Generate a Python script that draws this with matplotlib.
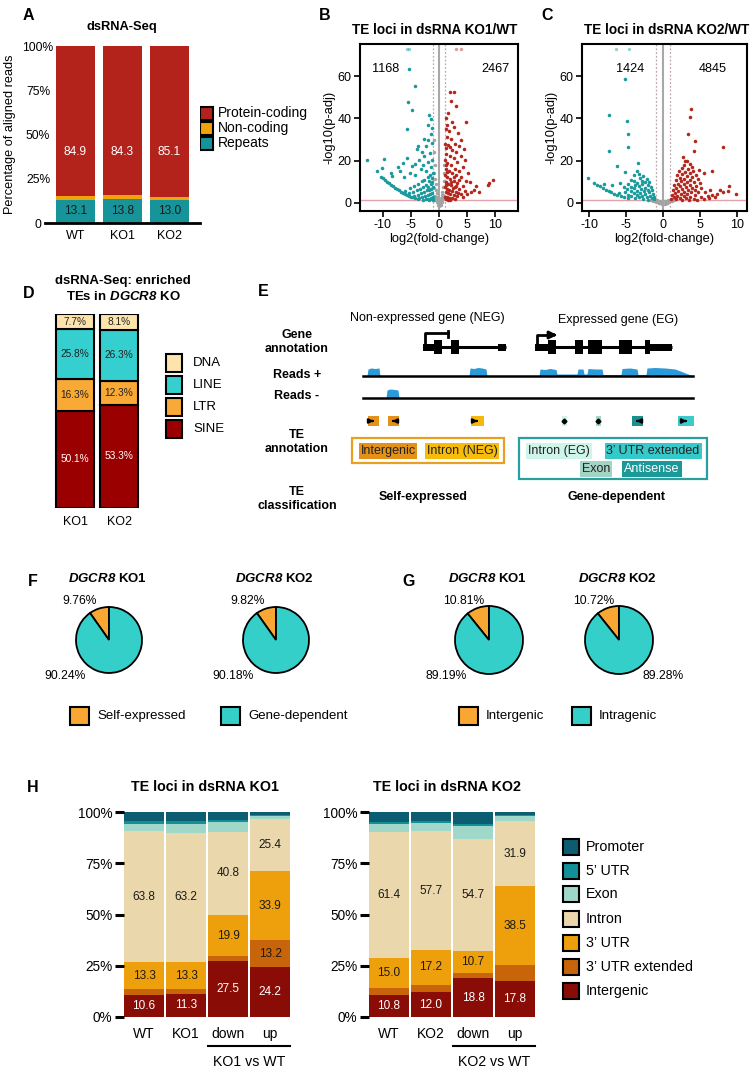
import numpy as np
import matplotlib
matplotlib.use("Agg")
import matplotlib.pyplot as plt
from matplotlib.patches import Rectangle

plt.rcParams["font.family"] = ["Liberation Sans", "DejaVu Sans"]
plt.rcParams["axes.unicode_minus"] = False
# math text is only used for the italic gene name, so make it bold italic throughout
plt.rcParams["mathtext.fontset"] = "custom"
plt.rcParams["mathtext.it"] = "Liberation Sans:italic:bold"
plt.rcParams["mathtext.rm"] = "Liberation Sans:italic:bold"

# ---------------- data ----------------
# A: dsRNA-Seq read composition (%)
a_samples = ["WT", "KO1", "KO2"]
a_repeats = [13.1, 13.8, 13.0]
a_noncoding = [2.0, 1.9, 1.9]
a_protein = [84.9, 84.3, 85.1]

# B: volcano KO1/WT, (log2FC, -log10 padj)
b_down = [(-5.4, 63.3), (-4.2, 55.2), (-5.5, 47.9), (-4.8, 44.0), (-5.7, 34.8),
          (-12.8, 20.2), (-9.9, 21.0), (-11.1, 14.9), (-10.2, 16.5), (-8.6, 14.2), (-7.4, 16.8),
          (-10.3, 12.4), (-10.0, 11.6), (-9.6, 10.8), (-9.3, 10.1), (-8.9, 9.3), (-8.6, 8.6),
          (-8.2, 7.9), (-7.9, 7.2), (-7.5, 6.5), (-7.2, 5.9), (-6.8, 5.3), (-6.5, 4.8),
          (-6.1, 4.3), (-5.8, 3.9), (-5.4, 3.4), (-5.0, 3.0), (-4.6, 2.6), (-4.2, 2.3), (-3.8, 2.0),
          (-1.7, 41.6), (-1.4, 39.9), (-2.0, 36.7), (-1.2, 35.3), (-1.5, 32.8), (-2.6, 30.2),
          (-1.9, 29.6), (-1.2, 28.4), (-2.3, 26.9), (-3.7, 27.0), (-4.0, 25.4), (-3.0, 24.1),
          (-1.6, 23.5), (-2.6, 22.0), (-3.5, 20.3), (-5.8, 21.4), (-6.5, 19.0), (-1.3, 20.5),
          (-2.0, 19.2), (-2.9, 18.1), (-4.3, 18.4), (-4.9, 17.4), (-1.5, 17.0), (-3.3, 16.0),
          (-2.3, 15.2), (-7.0, 15.1), (-5.1, 14.1), (-4.2, 13.2), (-6.2, 12.5), (-8.3, 12.9),
          (-1.1, 14.0), (-1.6, 13.1), (-2.0, 12.2), (-1.3, 12.0), (-2.6, 11.1), (-3.1, 10.2),
          (-1.2, 10.1), (-1.8, 10.4), (-3.7, 9.1), (-1.5, 9.0), (-2.4, 8.6), (-4.4, 8.0),
          (-1.1, 7.6), (-2.0, 7.7), (-2.9, 7.5), (-5.1, 7.0), (-3.4, 6.8), (-1.4, 6.5),
          (-4.0, 6.0), (-1.8, 6.2), (-2.2, 5.9), (-6.0, 5.8), (-2.7, 5.4), (-4.6, 5.1),
          (-1.2, 4.9), (-3.2, 4.8), (-5.3, 4.5), (-1.6, 4.2), (-3.8, 3.9), (-2.0, 3.6),
          (-2.5, 3.2), (-4.4, 3.3), (-1.1, 3.0), (-3.0, 2.8), (-1.5, 2.5), (-3.5, 2.4),
          (-1.9, 2.1), (-2.4, 1.9), (-1.3, 1.7), (-2.8, 1.6), (-1.7, 1.5), (-1.1, 1.4)]
b_up = [(1.9, 52.5), (2.6, 52.7), (2.1, 48.2), (3.0, 45.9), (1.6, 42.7), (4.9, 38.2),
        (3.4, 33.1), (4.0, 30.0), (4.4, 25.3), (4.7, 20.5), (9.6, 11.0), (8.9, 9.4),
        (8.7, 8.7), (7.1, 5.4), (5.8, 5.4), (6.6, 7.9), (5.5, 9.8),
        (1.3, 40.1), (1.5, 37.0), (2.3, 38.2), (1.2, 35.0), (1.8, 34.1), (2.7, 36.0),
        (1.4, 31.2), (2.1, 30.3), (2.9, 28.1), (3.6, 27.0), (1.1, 28.0), (1.6, 27.2),
        (2.4, 25.1), (3.1, 24.0), (3.9, 22.2), (1.3, 23.1), (1.9, 22.0), (2.6, 21.1),
        (3.3, 19.2), (4.2, 17.1), (1.1, 20.2), (1.5, 19.1), (2.2, 18.0), (2.9, 16.2),
        (3.6, 15.1), (5.2, 14.0), (1.2, 16.3), (1.7, 15.2), (2.4, 14.1), (3.1, 13.0),
        (4.0, 12.1), (4.8, 10.3), (1.1, 13.1), (1.4, 12.2), (1.9, 11.5), (2.6, 10.5),
        (3.3, 9.5), (4.3, 8.1), (1.2, 10.1), (1.6, 9.2), (2.1, 8.5), (2.8, 7.5),
        (3.6, 6.5), (4.6, 5.5), (6.2, 6.1), (1.1, 7.5), (1.4, 6.8), (1.8, 6.2),
        (2.3, 5.7), (3.0, 5.0), (3.9, 4.2), (5.0, 4.2), (1.2, 5.0), (1.6, 4.5),
        (2.0, 4.1), (2.6, 3.6), (3.3, 3.1), (4.2, 2.8), (1.1, 3.0), (1.4, 2.7),
        (1.8, 2.4), (2.3, 2.2), (2.9, 2.0), (1.2, 1.8), (1.6, 1.6), (2.0, 1.5),
        (1.3, 26.0), (2.0, 26.5), (1.2, 18.1), (2.7, 12.5), (3.5, 11.0), (1.5, 14.5),
        (2.2, 9.8), (3.0, 8.0), (1.3, 8.5), (2.5, 6.9), (3.4, 4.6)]
b_ns = [(-0.9, 30.0), (-0.95, 24.0), (-0.8, 18.0), (-0.9, 14.0), (-0.7, 11.5), (-0.6, 9.0),
        (-0.85, 7.0), (-0.5, 6.0), (-0.4, 4.5), (-0.7, 3.5), (-0.3, 2.8), (-0.2, 1.8),
        (-0.55, 1.5), (-0.1, 0.8), (0.0, 0.3), (0.1, -0.4), (-0.2, -0.9), (0.3, -1.0),
        (0.0, -1.6), (0.2, 0.9), (0.35, 2.2), (0.5, 3.6), (0.6, 5.0), (0.75, 7.5),
        (0.85, 10.5), (0.9, 14.0), (0.95, 18.0), (0.8, 4.0), (0.65, 2.0), (-0.8, 2.2),
        (0.9, 2.6), (-0.95, 1.2), (0.45, 0.5), (-0.4, 0.3)]
b_cap_down = [-5.7, -5.4]
b_cap_up = [3.0, 4.0]
b_counts = ["1168", "2467"]

# C: volcano KO2/WT
c_down = [(-5.1, 58.6), (-7.3, 41.4), (-4.9, 38.6), (-4.7, 32.4), (-4.8, 26.3), (-7.4, 24.8),
          (-6.3, 17.3), (-10.2, 11.7), (-3.4, 18.9), (-5.1, 14.5),
          (-9.4, 9.4), (-9.0, 8.5), (-8.6, 7.8), (-8.2, 7.0), (-7.8, 6.3), (-7.4, 5.6),
          (-7.0, 5.0), (-6.6, 4.4), (-6.2, 3.8), (-8.0, 9.0), (-6.9, 8.6), (-5.8, 9.3),
          (-6.0, 4.6), (-5.7, 3.3),
          (-3.6, 15.3), (-3.9, 13.0), (-3.2, 13.7), (-2.7, 12.6), (-3.1, 11.8), (-2.2, 11.4),
          (-4.3, 11.0), (-4.0, 10.2), (-2.9, 10.4), (-3.5, 9.6), (-2.4, 9.7), (-1.9, 10.1),
          (-4.8, 9.1), (-3.8, 8.6), (-2.8, 8.8), (-2.1, 8.4), (-3.3, 8.0), (-5.3, 7.7),
          (-4.4, 7.6), (-1.7, 7.6), (-2.5, 7.3), (-3.9, 6.9), (-4.9, 6.6), (-3.0, 6.5),
          (-2.0, 6.3), (-1.5, 6.1), (-3.5, 5.8), (-4.4, 5.5), (-2.6, 5.5), (-5.1, 5.2),
          (-1.9, 5.0), (-3.1, 4.8), (-4.0, 4.6), (-1.4, 4.3), (-2.4, 4.2), (-4.7, 4.0),
          (-3.6, 3.8), (-2.9, 3.5), (-1.8, 3.3), (-1.2, 2.9), (-4.3, 3.2), (-5.3, 3.0),
          (-3.3, 2.8), (-2.2, 2.6), (-2.7, 2.1), (-1.5, 2.2), (-3.8, 2.4), (-4.8, 2.4),
          (-1.2, 1.7), (-2.0, 1.6)]
c_up = [(3.8, 44.3), (3.7, 40.8), (3.4, 32.4), (4.3, 29.2), (4.2, 24.6), (8.1, 26.5),
        (2.7, 21.7), (3.3, 19.8), (5.6, 14.4), (6.7, 14.9), (4.9, 15.8), (9.0, 8.1),
        (9.9, 4.3), (7.8, 6.2), (7.3, 4.4), (6.7, 3.8), (6.1, 3.3), (8.2, 5.0), (8.8, 5.6),
        (5.7, 5.4), (6.4, 5.9),
        (3.0, 20.0), (3.6, 18.6), (2.9, 18.0), (3.9, 17.1), (2.6, 16.6), (3.4, 16.1),
        (4.1, 15.2), (2.2, 15.3), (3.0, 14.6), (3.7, 14.0), (4.5, 13.4), (2.6, 13.6),
        (1.9, 13.0), (3.3, 12.8), (4.0, 12.1), (2.3, 12.0), (2.9, 11.5), (3.6, 11.0),
        (4.7, 11.3), (1.7, 10.9), (2.5, 10.4), (3.2, 10.0), (4.2, 9.8), (5.0, 9.5),
        (2.0, 9.2), (2.8, 8.9), (3.6, 8.5), (1.5, 8.3), (4.5, 8.1), (2.3, 7.8),
        (3.1, 7.5), (3.9, 7.2), (5.2, 7.0), (1.8, 7.0), (2.6, 6.6), (4.3, 6.3),
        (1.3, 6.0), (3.4, 6.0), (2.1, 5.6), (2.9, 5.3), (3.8, 5.0), (4.8, 5.1),
        (1.6, 4.8), (2.4, 4.4), (3.3, 4.1), (4.3, 3.9), (1.2, 3.7), (1.9, 3.4),
        (2.8, 3.2), (3.7, 2.9), (5.1, 3.0), (1.5, 2.6), (2.3, 2.4), (3.1, 2.2),
        (4.2, 2.1), (1.1, 1.9), (1.8, 1.7), (2.6, 1.6), (3.5, 1.5), (4.6, 1.5),
        (5.5, 1.8), (6.2, 2.3), (7.0, 2.9)]
c_ns = [(-1.6, 1.3), (-1.3, 1.0), (-1.1, 0.8), (-0.9, 0.6), (-0.7, 0.3), (-0.5, 0.1),
        (-0.3, -0.2), (-0.1, -0.4), (0.0, -0.5), (0.2, -0.3), (0.4, 0.0), (0.6, 0.2),
        (0.8, 0.5), (1.0, 0.7), (1.2, 0.9), (1.5, 1.2), (-0.8, 1.5), (-0.4, 0.8),
        (0.3, 0.7), (0.7, 1.4), (-1.2, 2.0), (1.1, 1.9), (-0.6, -0.1), (0.5, -0.2)]
c_cap_down = [-6.4, -4.6]
c_cap_up = []
c_counts = ["1424", "4845"]
cap_y = 72.6

# D: enriched TE classes (%)
d_samples = ["KO1", "KO2"]
d_sine = [50.1, 53.3]
d_ltr = [16.3, 12.3]
d_line = [25.8, 26.3]
d_dna = [7.7, 8.1]

# F / G pies (%)
f_ko1 = [9.76, 90.24]
f_ko2 = [9.82, 90.18]
g_ko1 = [10.81, 89.19]
g_ko2 = [10.72, 89.28]

# H: TE locus annotation (%), stacked bottom -> top
h_groups1 = ["WT", "KO1", "down", "up"]
h_groups2 = ["WT", "KO2", "down", "up"]
h_cats = ["Promoter", "5\u2019 UTR", "Exon", "Intron", "3\u2019 UTR", "3\u2019 UTR extended", "Intergenic"]
ko1_intergenic = [10.6, 11.3, 27.5, 24.2]
ko1_utr3_ext = [2.9, 2.2, 2.2, 13.2]
ko1_utr3 = [13.3, 13.3, 19.9, 33.9]
ko1_intron = [63.8, 63.2, 40.8, 25.4]
ko1_exon = [3.7, 4.2, 4.6, 1.2]
ko1_utr5 = [1.5, 1.3, 1.2, 0.8]
ko1_promoter = [4.2, 4.5, 3.8, 1.3]
ko2_intergenic = [10.8, 12.0, 18.8, 17.8]
ko2_utr3_ext = [3.2, 3.6, 2.5, 7.5]
ko2_utr3 = [15.0, 17.2, 10.7, 38.5]
ko2_intron = [61.4, 57.7, 54.7, 31.9]
ko2_exon = [3.6, 4.0, 6.4, 2.5]
ko2_utr5 = [1.2, 1.2, 1.0, 0.5]
ko2_promoter = [4.8, 4.3, 5.9, 1.3]

# E: schematic elements (genome coordinate ~ pixel units)
neg_span = (423, 506)
neg_blocks = [(423, 437, 7), (434, 442, 14), (451, 459, 14), (498, 506, 7)]
eg_span = (535, 672)
eg_blocks = [(535, 548, 7), (548, 556, 14), (575, 583, 14), (588, 602, 14),
             (619, 632, 14), (645, 650, 14), (650, 672, 7)]
plus_cov = [(363, 0), (367, 0), (368, 7), (371, 8), (375, 7.5), (379, 8), (380, 0),
            (469, 0), (470, 8), (474, 7.5), (478, 8.5), (482, 8), (486, 7), (487, 0),
            (539, 0), (540, 7), (545, 6.5), (550, 7.5), (556, 6.5), (557, 2), (577, 2),
            (578, 7), (583, 7), (584, 2), (587, 2), (588, 7.5), (595, 7), (602, 7),
            (603, 1.5), (621, 1.5), (622, 7.5), (630, 8), (637, 7), (638, 1.5), (646, 1.5),
            (647, 8), (655, 8.5), (665, 8), (675, 7), (683, 4), (688, 2), (693, 0)]
minus_cov = [(386, 0), (387, 8), (390, 9), (395, 8.5), (398, 8), (399, 0)]
te_marks = [(373, 11, "#e6901c", 1), (393, 11, "#e6901c", -1), (477, 13, "#f6b90b", 1),
            (564, 5, "#cdf3ea", 0), (598, 5, "#a6d6c6", 0), (637, 11, "#1b8f8f", -1),
            (686, 16, "#3ccaca", 1)]

# ---------------- styling ----------------
TEAL = "#1a9a9c"
RED = "#b3271d"
ORANGE = "#f8a832"
TURQ = "#35cfca"
W, H = 752, 1070

fig = plt.figure(figsize=(W / 100, H / 100), dpi=100)


def add_ax(x0, y0, x1, y1):
    return fig.add_axes([x0 / W, 1 - y1 / H, (x1 - x0) / W, (y1 - y0) / H])


ov = add_ax(0, 0, W, H)
ov.set_xlim(0, W)
ov.set_ylim(H, 0)
ov.axis("off")


def square(x, yc, w, h, color):
    ov.add_patch(Rectangle((x, yc - h / 2), w, h, facecolor=color, edgecolor="black", lw=1.5))


# panel letters
for letter, (x, y) in {"A": (28, 15), "B": (325, 15), "C": (547, 15), "D": (29, 293),
                       "E": (263, 292), "F": (33, 581), "G": (409, 581), "H": (33, 787)}.items():
    ov.text(x, y, letter, fontsize=11.5, fontweight="bold", ha="center", va="center")

# ---------------- A ----------------
ax = add_ax(45, 46, 200, 223)
xa = np.arange(len(a_samples))
ax.bar(xa, a_repeats, width=0.83, color="#17949a")
ax.bar(xa, a_noncoding, bottom=a_repeats, width=0.83, color="#f0a30a")
ax.bar(xa, a_protein, bottom=np.add(a_repeats, a_noncoding), width=0.83, color="#b3231c")
for i in xa:
    ax.text(i, a_repeats[i] / 2, f"{a_repeats[i]:.1f}", ha="center", va="center", fontsize=8.6, color="#1a1a1a")
    ax.text(i, 40, f"{a_protein[i]:.1f}", ha="center", va="center", fontsize=8.6, color="white")
ax.set_xlim(-0.65, 2.65)
ax.set_ylim(0, 100)
for s in ["top", "right", "left"]:
    ax.spines[s].set_visible(False)
ax.spines["bottom"].set_linewidth(2)
ax.set_yticks([0, 25, 50, 75, 100], ["0", "25%", "50%", "75%", "100%"])
ax.set_xticks(xa, a_samples)
ax.tick_params(axis="y", length=0, pad=5, labelsize=8.7)
for lab in ax.get_yticklabels():
    lab.set_horizontalalignment("center")
ax.tick_params(axis="x", length=0, pad=5, labelsize=9)
ax.set_ylabel("Percentage of aligned reads", fontsize=9.2)
ax.yaxis.set_label_coords(-0.19, 0.5)
ov.text(122, 27, "dsRNA-Seq", fontsize=9.3, fontweight="bold", ha="center", va="center")
for lab, col, yc in [("Protein-coding", "#b3231c", 113), ("Non-coding", "#f0a30a", 128), ("Repeats", "#17949a", 143)]:
    square(200, yc, 13, 13, col)
    ov.text(218, yc, lab, fontsize=10, va="center")


# ---------------- B / C ----------------
def volcano(ax, down, up, ns, cap_down, cap_up, counts, count_x, xlim):
    ax.axhline(1.3, color="#e3a3ab", lw=1, zorder=1)
    ax.axvline(0, color="#a8a8a8", lw=1.5, zorder=1)
    for v in (-1, 1):
        ax.axvline(v, color="#bfa7b0", lw=0.9, ls=(0, (1.5, 1.5)), zorder=1)
    ns, down, up = np.array(ns), np.array(down), np.array(up)
    ax.scatter(ns[:, 0], ns[:, 1], s=6, color="#a3a3a3", lw=0, zorder=2)
    ax.scatter(down[:, 0], down[:, 1], s=6.5, color=TEAL, lw=0, zorder=3)
    ax.scatter(up[:, 0], up[:, 1], s=6.5, color=RED, lw=0, zorder=3)
    ax.scatter(cap_down, [cap_y] * len(cap_down), s=6, color=TEAL, alpha=0.45, lw=0)
    ax.scatter(cap_up, [cap_y] * len(cap_up), s=6, color=RED, alpha=0.45, lw=0)
    ax.text(count_x[0], 63.5, counts[0], fontsize=9.2, ha="center", va="center")
    ax.text(count_x[1], 63.5, counts[1], fontsize=9.2, ha="center", va="center")
    ax.set_xlim(*xlim)
    ax.set_ylim(-3.8, 75.2)
    ax.set_xticks([-10, -5, 0, 5, 10])
    ax.set_yticks([0, 20, 40, 60])
    for s in ax.spines.values():
        s.set_linewidth(1.5)
    ax.tick_params(length=4, width=1.2, labelsize=9, pad=2)
    ax.set_xlabel("log2(fold-change)", fontsize=9.3, labelpad=1)
    ax.set_ylabel("-log10(p-adj)", fontsize=9.3, labelpad=2)


ax = add_ax(360, 44, 518, 211)
volcano(ax, b_down, b_up, b_ns, b_cap_down, b_cap_up, b_counts, (-9.5, 10.0), (-14.1, 14.1))
ov.text(435, 30, "TE loci in dsRNA KO1/WT", fontsize=9.8, fontweight="bold", ha="center", va="center")
ax = add_ax(582, 44, 747, 211)
volcano(ax, c_down, c_up, c_ns, c_cap_down, c_cap_up, c_counts, (-4.5, 6.7), (-11.0, 11.4))
ov.text(667, 30, "TE loci in dsRNA KO2/WT", fontsize=9.8, fontweight="bold", ha="center", va="center")

# ---------------- D ----------------
ax = add_ax(50, 314, 145, 508)
xd = np.arange(len(d_samples))
d_layers = [(d_sine, "#9b0000", "white"), (d_ltr, "#f9a935", "#222222"),
            (d_line, "#36cfcf", "#222222"), (d_dna, "#fde4ad", "#222222")]
bottom = np.zeros(len(xd))
for vals, col, tcol in d_layers:
    ax.bar(xd, vals, bottom=bottom, width=0.864, color=col, edgecolor="black", lw=1.5)
    for i in xd:
        ax.text(i, bottom[i] + vals[i] / 2, f"{vals[i]:.1f}%", ha="center", va="center", fontsize=7.3, color=tcol)
    bottom += vals
ax.set_xlim(-0.568, 1.59)
ax.set_ylim(0, 100)
for s in ax.spines.values():
    s.set_visible(False)
ax.set_yticks([])
ax.set_xticks(xd, d_samples)
ax.tick_params(axis="x", length=0, pad=6, labelsize=9)
ov.text(123, 281, "dsRNA-Seq: enriched", fontsize=9.5, fontweight="bold", ha="center", va="center")
ov.text(123, 296, r"TEs in $DGCR8$ KO", fontsize=9.5, fontweight="bold", ha="center", va="center")
for lab, col, yc in [("DNA", "#fde4ad", 363), ("LINE", "#36cfcf", 385), ("LTR", "#f9a935", 407), ("SINE", "#9b0000", 429)]:
    square(166, yc, 16, 18, col)
    ov.text(193, yc, lab, fontsize=9.5, va="center")

# ---------------- E ----------------
ax = add_ax(250, 300, 715, 515)
ax.set_xlim(250, 715)
ax.set_ylim(515, 300)
ax.axis("off")
gene_y = 347
for span, blocks in [(neg_span, neg_blocks), (eg_span, eg_blocks)]:
    ax.plot(span, [gene_y, gene_y], color="black", lw=2.2, solid_capstyle="butt")
    for x0, x1, h in blocks:
        ax.add_patch(Rectangle((x0, gene_y - h / 2), x1 - x0, h, color="black", lw=0))
ax.plot([425, 425, 448], [gene_y, 333, 333], color="black", lw=2)
ax.plot([448, 448], [331, 337], color="black", lw=2)
ax.plot([537, 537, 551], [gene_y, 335, 335], color="black", lw=2)
ax.annotate("", xy=(560, 335), xytext=(549, 335),
            arrowprops=dict(arrowstyle="-|>", color="black", lw=2, mutation_scale=11))
ax.text(427, 318, "Non-expressed gene (NEG)", fontsize=9, ha="center", va="center")
ax.text(618, 320, "Expressed gene (EG)", fontsize=9, ha="center", va="center")
for base, cov in [(376, plus_cov), (398, minus_cov)]:
    ax.plot([363, 693], [base, base], color="black", lw=1.8)
    cx, ch = np.array(cov).T
    ax.fill_between(cx, base, base - ch, color="#2b9ad8", lw=0)
for xc, w, col, d in te_marks:
    ax.add_patch(Rectangle((xc - w / 2, 416), w, 10, color=col, lw=0))
    if d == 0:
        ax.plot(xc, 421, marker="D", ms=2.5, color="black")
    else:
        ax.annotate("", xy=(xc + 3.5 * d, 421), xytext=(xc - 3.5 * d, 421),
                    arrowprops=dict(arrowstyle="-|>", color="black", lw=1.6, mutation_scale=6))
for lab, y in [("Gene\nannotation", 342), ("Reads +", 375), ("Reads -", 396),
               ("TE\nannotation", 442), ("TE\nclassification", 499)]:
    ax.text(297, y, lab, fontsize=9, fontweight="bold", ha="center", va="center", linespacing=1.25)
ax.add_patch(Rectangle((352, 438), 152, 25, fill=False, edgecolor="#e8a020", lw=1.6))
ax.add_patch(Rectangle((519, 438), 188, 41, fill=False, edgecolor="#2a9fa0", lw=1.6))
for lab, x, y, bg, tc in [("Intergenic", 388, 451, "#e39119", "#222222"),
                          ("Intron (NEG)", 462, 451, "#f7bb0b", "#222222"),
                          ("Intron (EG)", 559, 451, "#cff5ea", "#222222"),
                          ("3\u2019 UTR extended", 653, 451, "#35c9c9", "#222222"),
                          ("Exon", 596, 469, "#a3d4c4", "#222222"),
                          ("Antisense", 652, 469, "#1b9898", "white")]:
    ax.text(x, y, lab, fontsize=9, ha="center", va="center", color=tc,
            bbox=dict(boxstyle="square,pad=0.15", facecolor=bg, edgecolor="none"))
ax.text(423, 497, "Self-expressed", fontsize=9, fontweight="bold", ha="center", va="center")
ax.text(616, 497, "Gene-dependent", fontsize=9, fontweight="bold", ha="center", va="center")


# ---------------- F / G ----------------
def pie(cx, cy, r, values, title, lab_pos):
    ax = add_ax(cx - 1.25 * r, cy - 1.25 * r, cx + 1.25 * r, cy + 1.25 * r)
    ax.pie(values, colors=[ORANGE, TURQ], startangle=90, counterclock=True,
           wedgeprops=dict(edgecolor="black", linewidth=1.3))
    ax.set_xlim(-1.25, 1.25)
    ax.set_ylim(-1.25, 1.25)
    for v, (lx, ly) in zip(values, lab_pos):
        ov.text(lx, ly, f"{v:.2f}%", fontsize=8.7, ha="center", va="center")
    ov.text(cx - 2, 579, title, fontsize=9.5, fontweight="bold", ha="center", va="center")


pie(109, 640, 33, f_ko1, r"$DGCR8$ KO1", [(80, 601), (65, 676)])
pie(276, 640, 33, f_ko2, r"$DGCR8$ KO2", [(248, 601), (233, 676)])
pie(489, 640, 34, g_ko1, r"$DGCR8$ KO1", [(464, 601), (446, 676)])
pie(619, 640, 34, g_ko2, r"$DGCR8$ KO2", [(594, 601), (663, 676)])
for lab, col, x in [("Self-expressed", ORANGE, 70), ("Gene-dependent", TURQ, 221),
                    ("Intergenic", ORANGE, 459), ("Intragenic", TURQ, 572)]:
    square(x, 716, 19, 18, col)
    ov.text(x + 27, 716, lab, fontsize=9.5, va="center")

# ---------------- H ----------------
h_colors = ["#0c5c72", "#138f99", "#9fd8c8", "#ead8ac", "#eda00c", "#c8650a", "#8a0c06"]


def stacked(x0, layers, groups, title, tx, comp):
    ax = add_ax(x0, 812, x0 + 166, 1017)
    xh = np.arange(len(groups))
    bottom = np.zeros(len(groups))
    for k, vals in enumerate(layers):
        col = h_colors[::-1][k]
        ax.bar(xh, vals, bottom=bottom, width=0.952, color=col, lw=0)
        for i in xh:
            if vals[i] >= 10:
                ax.text(i, bottom[i] + vals[i] / 2, f"{vals[i]:.1f}", ha="center", va="center",
                        fontsize=8.5, color="white" if k == 0 else "#1a1a1a")
        bottom += vals
    ax.set_xlim(-0.476, 3.476)
    ax.set_ylim(0, 100)
    for s in ax.spines.values():
        s.set_visible(False)
    ax.set_yticks([0, 25, 50, 75, 100], ["0%", "25%", "50%", "75%", "100%"])
    ax.set_xticks(xh, groups)
    ax.tick_params(axis="y", length=6.5, width=2.2, pad=2, labelsize=9.8)
    ax.tick_params(axis="x", length=0, pad=7, labelsize=10)
    tr = ax.get_xaxis_transform()
    ax.plot([1.524, 3.476], [-0.14, -0.14], transform=tr, clip_on=False, color="black", lw=1.5)
    ax.text(2.5, -0.22, comp, transform=tr, fontsize=10.2, ha="center", va="center")
    ov.text(tx, 787, title, fontsize=10.3, fontweight="bold", ha="center", va="center")


stacked(124, [ko1_intergenic, ko1_utr3_ext, ko1_utr3, ko1_intron, ko1_exon, ko1_utr5, ko1_promoter],
        h_groups1, "TE loci in dsRNA KO1", 205, "KO1 vs WT")
stacked(369, [ko2_intergenic, ko2_utr3_ext, ko2_utr3, ko2_intron, ko2_exon, ko2_utr5, ko2_promoter],
        h_groups2, "TE loci in dsRNA KO2", 447, "KO2 vs WT")
for lab, col, yc in zip(h_cats, h_colors, [847, 871, 894, 919, 943, 967, 991]):
    square(563, yc, 16, 16, col)
    ov.text(586, yc, lab, fontsize=10.3, va="center")

fig.savefig("out.png", dpi=100)
